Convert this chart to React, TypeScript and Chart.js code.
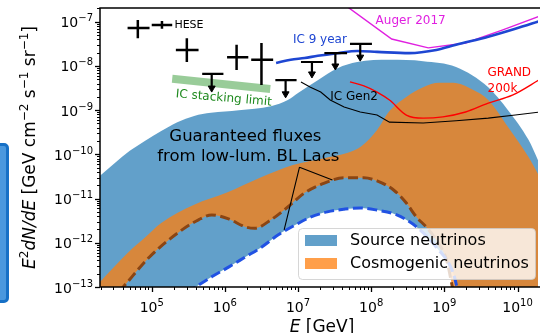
import React, { useEffect, useRef } from "react";
import { Chart, registerables } from "chart.js";

Chart.register(...registerables);

const FONT = '"DejaVu Sans", "Liberation Sans", sans-serif';

// ---------- data: log10(E / GeV) and log10(E^2 dN/dE / GeV cm^-2 s^-1 sr^-1) ----------
const xLogMin = 4.293;
const xLogMax = 10.28;
const yLogMin = -13;
const yLogMax = -6.688;

const xTickExponents = [5, 6, 7, 8, 9, 10];
const yTickExponents = [-13, -12, -11, -10, -9, -8, -7];

// Source neutrinos band
const sourceUpperLogE = [4.29, 4.5, 4.7, 4.9, 5.13, 5.35, 5.58, 5.81, 6.19, 6.63, 6.86, 7.0, 7.27, 7.54, 7.81, 8.25, 8.71, 9.16, 9.6, 9.87, 10.15, 10.31];
const sourceUpperLogF = [-10.49, -10.19, -9.92, -9.7, -9.47, -9.27, -9.13, -9.06, -9.0, -8.91, -8.77, -8.61, -8.32, -8.05, -7.91, -7.86, -7.89, -8.02, -8.48, -9.0, -9.67, -10.24];
const sourceLowerLogE = [4.29, 5.0, 5.6, 5.82, 6.05, 6.28, 6.5, 6.73, 6.96, 7.17, 7.4, 7.63, 7.85, 8.08, 8.35, 8.62, 8.89, 9.12, 9.17, 9.29, 9.6, 10.31];
const sourceLowerLogF = [-14.31, -13.61, -13.0, -12.77, -12.55, -12.32, -12.1, -11.82, -11.6, -11.42, -11.3, -11.24, -11.21, -11.26, -11.37, -11.64, -12.1, -12.68, -13.0, -14.2, -16.5, -16.5];

// Cosmogenic neutrinos band
const cosmoUpperLogE = [4.29, 4.67, 4.9, 5.13, 5.58, 6.02, 6.48, 6.93, 7.37, 7.67, 7.87, 8.08, 8.25, 8.48, 8.71, 8.93, 9.12, 9.39, 9.6, 9.87, 10.15, 10.31];
const cosmoUpperLogF = [-12.89, -12.23, -11.89, -11.55, -11.14, -10.87, -10.53, -10.24, -10.08, -9.97, -9.81, -9.45, -9.02, -8.7, -8.48, -8.38, -8.38, -8.54, -8.77, -9.38, -10.06, -10.53];
const cosmoLowerLogE = [4.29, 4.61, 4.97, 5.37, 5.64, 5.82, 6.05, 6.28, 6.41, 6.63, 6.86, 7.09, 7.36, 7.63, 7.9, 8.08, 8.31, 8.48, 8.62, 8.75, 8.89, 9.03, 9.11, 9.19, 9.4, 10.31];
const cosmoLowerLogF = [-13.59, -13.0, -12.32, -11.76, -11.48, -11.37, -11.46, -11.64, -11.67, -11.48, -11.19, -10.87, -10.65, -10.53, -10.53, -10.6, -10.81, -11.1, -11.42, -11.64, -11.94, -12.39, -13.0, -13.63, -16.5, -16.5];

// Sensitivities
const ic9LogE = [6.7, 6.9, 7.09, 7.27, 7.54, 7.81, 8.08, 8.52, 8.89, 9.16, 9.6, 9.97, 10.31];
const ic9LogF = [-7.93, -7.86, -7.82, -7.77, -7.71, -7.66, -7.68, -7.71, -7.64, -7.52, -7.34, -7.16, -6.98];
const augerLogE = [7.54, 8.28, 8.78, 9.29, 9.79, 10.31];
const augerLogF = [-6.5, -7.39, -7.59, -7.48, -7.19, -6.87];
const grandLogE = [7.71, 7.9, 8.08, 8.25, 8.48, 8.71, 8.98, 9.29, 9.6, 9.93, 10.31];
const grandLogF = [-8.36, -8.45, -8.59, -8.77, -9.11, -9.18, -9.15, -9.04, -8.84, -8.66, -8.3];
const gen2LogE = [7.04, 7.17, 7.31, 7.44, 7.63, 7.85, 8.08, 8.25, 8.71, 9.16, 9.6, 9.97, 10.31];
const gen2LogF = [-8.36, -8.48, -8.59, -8.77, -8.93, -9.04, -9.11, -9.27, -9.29, -9.24, -9.18, -9.11, -9.04];
const stackLogE = [5.28, 6.62];
const stackLogF = [-8.29, -8.52];

// HESE data points (crosses)
const heseLogE = [4.81, 5.14, 5.48, 6.16, 6.5];
const heseLogELo = [4.67, 5.0, 5.33, 6.03, 6.36];
const heseLogEHi = [4.97, 5.28, 5.64, 6.32, 6.66];
const heseLogF = [-7.14, -7.07, -7.64, -7.8, -7.86];
const heseLogFLo = [-7.37, -7.16, -7.91, -8.09, -8.43];
const heseLogFHi = [-6.96, -6.98, -7.37, -7.52, -7.48];

// HESE upper limits
const ulLogE = [5.82, 6.83, 7.19, 7.51, 7.85];
const ulLogELo = [5.69, 6.69, 7.04, 7.36, 7.71];
const ulLogEHi = [5.98, 6.98, 7.34, 7.67, 8.01];
const ulLogF = [-8.18, -8.32, -7.91, -7.71, -7.5];
const ulLogTip = [-8.5, -8.63, -8.18, -8.0, -7.8];

// leader lines of the "Guaranteed fluxes" annotation
const leaderLogE = [7.02, 6.81, null, 7.02, 7.47];
const leaderLogF = [-10.29, -11.71, null, -10.29, -10.58];

// text annotations (anchor in data coordinates)
const annotations = [
  { text: "HESE", le: 5.31, lf: -7.07, color: "#000", size: 11, align: "left", rot: 0 },
  { text: "IC 9 year", le: 6.93, lf: -7.41, color: "#1e46d2", size: 12, align: "left", rot: 0 },
  { text: "Auger 2017", le: 8.06, lf: -6.98, color: "#e020e0", size: 12, align: "left", rot: 0 },
  { text: "GRAND", le: 9.59, lf: -8.16, color: "#ff0000", size: 12, align: "left", rot: 0 },
  { text: "200k", le: 9.59, lf: -8.52, color: "#ff0000", size: 12, align: "left", rot: 0 },
  { text: "IC Gen2", le: 7.44, lf: -8.7, color: "#000", size: 12, align: "left", rot: 0 },
  { text: "IC stacking limit", le: 5.985, lf: -8.73, color: "#1f8a1f", size: 12, align: "center", rot: 5 },
  { text: "Guaranteed fluxes", le: 6.28, lf: -9.61, color: "#000", size: 16.5, align: "center", rot: 0 },
  { text: "from low-lum. BL Lacs", le: 6.32, lf: -10.06, color: "#000", size: 16.5, align: "center", rot: 0 },
];

// ---------- helpers ----------
const toPts = (le: (number | null)[], lf: (number | null)[]) =>
  le.map((e, i) => ({ x: e === null ? 1e6 : 10 ** e, y: lf[i] === null ? null : 10 ** (lf[i] as number) }));

const heseSegs = heseLogE.flatMap((e, i) => [
  { x: 10 ** heseLogELo[i], y: 10 ** heseLogF[i] },
  { x: 10 ** heseLogEHi[i], y: 10 ** heseLogF[i] },
  { x: 10 ** heseLogEHi[i], y: null },
  { x: 10 ** e, y: 10 ** heseLogFLo[i] },
  { x: 10 ** e, y: 10 ** heseLogFHi[i] },
  { x: 10 ** e, y: null },
]);
const ulSegs = ulLogE.flatMap((e, i) => [
  { x: 10 ** ulLogELo[i], y: 10 ** ulLogF[i] },
  { x: 10 ** ulLogEHi[i], y: 10 ** ulLogF[i] },
  { x: 10 ** ulLogEHi[i], y: null },
  { x: 10 ** e, y: 10 ** ulLogF[i] },
  { x: 10 ** e, y: 10 ** ulLogTip[i] },
  { x: 10 ** e, y: null },
]);
const ulHeads = ulLogE.map((e, i) => ({ x: 10 ** e, y: 10 ** ulLogTip[i] }));

type Seg = { t: string; font: string; dy?: number };
function drawSegs(ctx: CanvasRenderingContext2D, segs: Seg[], x: number, y: number, align: string) {
  const widths = segs.map((s) => {
    ctx.font = s.font;
    return ctx.measureText(s.t).width;
  });
  const total = widths.reduce((a, b) => a + b, 0);
  let cx = align === "center" ? x - total / 2 : align === "right" ? x - total : x;
  ctx.textAlign = "left";
  ctx.textBaseline = "alphabetic";
  segs.forEach((s, i) => {
    ctx.font = s.font;
    ctx.fillText(s.t, cx, y + (s.dy || 0));
    cx += widths[i];
  });
}
function powSegs(exp: number): Seg[] {
  const sup = exp < 0 ? "\u2212" + Math.abs(exp) : String(exp);
  return [
    { t: "10", font: `14px ${FONT}` },
    { t: sup, font: `10px ${FONT}`, dy: -6 },
  ];
}

const framePlugin = {
  id: "frame",
  afterDatasetsDraw(chart: any) {
    const { ctx, chartArea: a, scales } = chart;
    const xs = scales.x;
    const ys = scales.y;
    ctx.save();
    ctx.strokeStyle = "#000";
    const tick = (x1: number, y1: number, x2: number, y2: number, w: number) => {
      ctx.lineWidth = w;
      ctx.beginPath();
      ctx.moveTo(x1, y1);
      ctx.lineTo(x2, y2);
      ctx.stroke();
    };
    for (let n = Math.floor(xLogMin); n <= Math.ceil(xLogMax); n++) {
      for (let k = 1; k <= 9; k++) {
        const v = k * 10 ** n;
        if (Math.log10(v) < xLogMin - 1e-6 || Math.log10(v) > xLogMax + 1e-6) continue;
        const px = Math.round(xs.getPixelForValue(v)) + 0.5;
        tick(px, a.bottom, px, a.bottom + (k === 1 ? 5 : 3), k === 1 ? 1.3 : 1);
      }
    }
    for (let n = Math.floor(yLogMin); n <= Math.ceil(yLogMax); n++) {
      for (let k = 1; k <= 9; k++) {
        const v = k * 10 ** n;
        if (Math.log10(v) < yLogMin - 1e-6 || Math.log10(v) > yLogMax + 1e-6) continue;
        const py = Math.round(ys.getPixelForValue(v)) + 0.5;
        tick(a.left, py, a.left - (k === 1 ? 5 : 3), py, k === 1 ? 1.3 : 1);
      }
    }
    // spines
    ctx.lineWidth = 1.5;
    ctx.beginPath();
    ctx.moveTo(a.right + 2, a.top);
    ctx.lineTo(a.left, a.top);
    ctx.lineTo(a.left, a.bottom);
    ctx.lineTo(a.right + 2, a.bottom);
    ctx.stroke();
    // tick labels
    ctx.fillStyle = "#000";
    xTickExponents.forEach((e) => {
      drawSegs(ctx, powSegs(e), xs.getPixelForValue(10 ** e), a.bottom + 25, "center");
    });
    yTickExponents.forEach((e) => {
      drawSegs(ctx, powSegs(e), a.left - 7, ys.getPixelForValue(10 ** e) + 5.5, "right");
    });
    // axis titles
    drawSegs(
      ctx,
      [
        { t: "E", font: `italic 17px ${FONT}` },
        { t: " [GeV]", font: `17px ${FONT}` },
      ],
      a.left + 222,
      332,
      "center"
    );
    ctx.save();
    ctx.translate(35, (a.top + a.bottom) / 2);
    ctx.rotate(-Math.PI / 2);
    drawSegs(
      ctx,
      [
        { t: "E", font: `italic 17px ${FONT}` },
        { t: "2", font: `12px ${FONT}`, dy: -7 },
        { t: "dN/dE", font: `italic 17px ${FONT}` },
        { t: " [GeV cm", font: `17px ${FONT}` },
        { t: "\u22122", font: `12px ${FONT}`, dy: -7 },
        { t: " s", font: `17px ${FONT}` },
        { t: "\u22121", font: `12px ${FONT}`, dy: -7 },
        { t: " sr", font: `17px ${FONT}` },
        { t: "\u22121", font: `12px ${FONT}`, dy: -7 },
        { t: "]", font: `17px ${FONT}` },
      ],
      0,
      0,
      "center"
    );
    ctx.restore();
    // annotations
    annotations.forEach((an) => {
      const px = xs.getPixelForValue(10 ** an.le);
      const py = ys.getPixelForValue(10 ** an.lf);
      ctx.save();
      ctx.translate(px, py);
      ctx.rotate((an.rot * Math.PI) / 180);
      ctx.fillStyle = an.color;
      ctx.font = `${an.size}px ${FONT}`;
      ctx.textAlign = an.align as CanvasTextAlign;
      ctx.textBaseline = "middle";
      ctx.fillText(an.text, 0, 0);
      ctx.restore();
    });
    ctx.restore();
  },
  afterDraw(chart: any) {
    const { ctx, chartArea: a } = chart;
    const items = chart.data.datasets.filter((d: any) => d.inLegend);
    const x0 = a.right - 240;
    const y0 = a.bottom - 59;
    const w = 237;
    const h = 51;
    ctx.save();
    ctx.beginPath();
    (ctx as any).roundRect(x0 + 0.5, y0 + 0.5, w, h, 4);
    ctx.fillStyle = "rgba(255,255,255,0.8)";
    ctx.fill();
    ctx.strokeStyle = "rgba(204,204,204,0.8)";
    ctx.lineWidth = 1;
    ctx.stroke();
    items.forEach((d: any, i: number) => {
      const py = y0 + 7 + i * 23;
      ctx.fillStyle = d.backgroundColor;
      ctx.fillRect(x0 + 7, py, 32, 11);
      ctx.fillStyle = "#000";
      ctx.font = `16px ${FONT}`;
      ctx.textAlign = "left";
      ctx.textBaseline = "middle";
      ctx.fillText(d.label, x0 + 52, py + 6);
    });
    ctx.restore();
  },
};

export default function App() {
  const ref = useRef<HTMLCanvasElement>(null);
  useEffect(() => {
    const smooth = { cubicInterpolationMode: "monotone" as const, capBezierPoints: false };
    const chart = new Chart(ref.current as HTMLCanvasElement, {
      type: "line",
      data: {
        datasets: [
          {
            label: "Source neutrinos",
            inLegend: true,
            data: toPts(sourceUpperLogE, sourceUpperLogF),
            borderWidth: 0,
            backgroundColor: "rgba(31,119,180,0.7)",
            fill: 1,
            order: 20,
            ...smooth,
          } as any,
          {
            label: "source lower",
            data: toPts(sourceLowerLogE, sourceLowerLogF),
            borderColor: "#2152e3",
            borderWidth: 3,
            borderDash: [10, 4.5],
            fill: false,
            order: 17,
            ...smooth,
          },
          {
            label: "Cosmogenic neutrinos",
            inLegend: true,
            data: toPts(cosmoUpperLogE, cosmoUpperLogF),
            borderWidth: 0,
            backgroundColor: "rgba(255,127,14,0.75)",
            fill: 3,
            order: 19,
            ...smooth,
          } as any,
          {
            label: "cosmogenic lower",
            data: toPts(cosmoLowerLogE, cosmoLowerLogF),
            borderColor: "#8B4513",
            borderWidth: 3,
            borderDash: [10, 4.5],
            fill: false,
            order: 18,
            ...smooth,
          },
          {
            label: "IC stacking limit",
            data: toPts(stackLogE, stackLogF),
            borderColor: "rgba(0,128,0,0.4)",
            borderWidth: 8,
            borderCapStyle: "butt",
            fill: false,
            order: 16,
          },
          {
            label: "IC 9 year",
            data: toPts(ic9LogE, ic9LogF),
            borderColor: "#1e46d2",
            borderWidth: 2.6,
            fill: false,
            order: 10,
            ...smooth,
          },
          {
            label: "Auger 2017",
            data: toPts(augerLogE, augerLogF),
            borderColor: "#e020e0",
            borderWidth: 1.4,
            fill: false,
            order: 10,
          },
          {
            label: "GRAND 200k",
            data: toPts(grandLogE, grandLogF),
            borderColor: "#ff0000",
            borderWidth: 1.4,
            fill: false,
            order: 10,
            ...smooth,
          },
          {
            label: "IC Gen2",
            data: toPts(gen2LogE, gen2LogF),
            borderColor: "#000",
            borderWidth: 1.1,
            fill: false,
            order: 10,
          },
          {
            label: "annotation leaders",
            data: toPts(leaderLogE, leaderLogF),
            borderColor: "#000",
            borderWidth: 1.1,
            fill: false,
            order: 9,
          },
          {
            label: "HESE",
            data: heseSegs,
            borderColor: "#000",
            borderWidth: 2.5,
            borderCapStyle: "butt",
            fill: false,
            order: 5,
          },
          {
            label: "HESE upper limits",
            data: ulSegs,
            borderColor: "#000",
            borderWidth: 2.2,
            borderCapStyle: "butt",
            fill: false,
            order: 5,
          },
          {
            label: "HESE upper limit arrows",
            data: ulHeads,
            showLine: false,
            pointStyle: "triangle",
            rotation: 180,
            pointRadius: 4,
            pointBackgroundColor: "#000",
            pointBorderColor: "#000",
            pointBorderWidth: 1,
            order: 4,
          },
        ] as any,
      },
      options: {
        animation: false,
        responsive: false,
        events: [],
        layout: { padding: { left: 100, top: 8, right: 0, bottom: 46 } },
        elements: { point: { radius: 0, hoverRadius: 0 }, line: { tension: 0 } },
        scales: {
          x: { type: "logarithmic", display: false, min: 10 ** xLogMin, max: 10 ** xLogMax },
          y: { type: "logarithmic", display: false, min: 10 ** yLogMin, max: 10 ** yLogMax },
        },
        plugins: { legend: { display: false }, tooltip: { enabled: false } },
      },
      plugins: [framePlugin],
    });
    return () => chart.destroy();
  }, []);

  return (
    <div style={{ position: "fixed", left: 0, top: 0, width: 543, height: 333, background: "#fff", overflow: "hidden" }}>
      <div
        style={{
          position: "absolute",
          left: -20,
          top: 143,
          width: 29,
          height: 160,
          boxSizing: "border-box",
          border: "3px solid #1670c6",
          background: "#4a98de",
          borderRadius: 5,
        }}
      />
      <canvas ref={ref} width={543} height={333} style={{ position: "absolute", left: 0, top: 0 }} />
    </div>
  );
}
